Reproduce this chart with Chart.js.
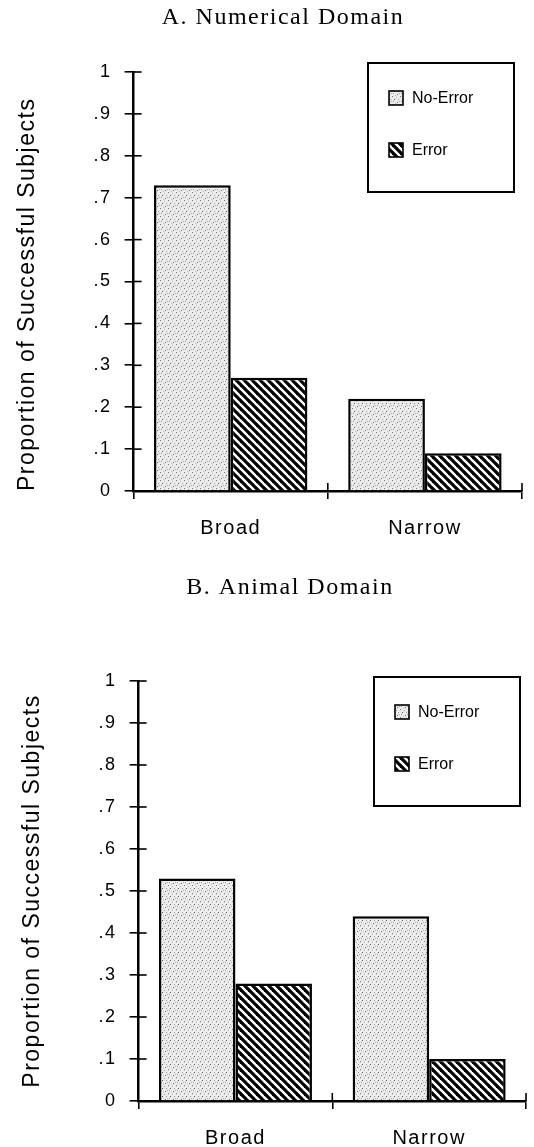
<!DOCTYPE html>
<html>
<head>
<meta charset="utf-8">
<script src="https://cdn.jsdelivr.net/npm/chart.js@4"></script>
<style>
html, body { margin: 0; padding: 0; background: #fff; overflow: hidden; }
.box { position: relative; width: 534px; }
#boxA { height: 573px; }
#boxB { height: 600px; }
</style>
</head>
<body>
<div class="box" id="boxA"><canvas id="chartA"></canvas></div>
<div class="box" id="boxB"><canvas id="chartB"></canvas></div>
<script>
// data
var categories = ['Broad', 'Narrow'];
var seriesNames = ['No-Error', 'Error'];
var numericalNoError = [0.73, 0.22];
var numericalError = [0.27, 0.09];
var animalNoError = [0.53, 0.44];
var animalError = [0.28, 0.10];
var yTickLabels = ['0', '.1', '.2', '.3', '.4', '.5', '.6', '.7', '.8', '.9', '1'];

// fill patterns: stipple for No-Error, diagonal hatch for Error
function stipplePattern() {
  var c = document.createElement('canvas');
  c.width = 8; c.height = 8;
  var g = c.getContext('2d');
  g.fillStyle = '#ececec';
  g.fillRect(0, 0, 8, 8);
  var dots = [[0,0,'#777'],[4,1,'#aaa'],[2,3,'#555'],[6,3,'#999'],[1,5,'#999'],[5,6,'#666'],[3,7,'#bbb'],[7,5,'#aaa']];
  dots.forEach(function (d) { g.fillStyle = d[2]; g.fillRect(d[0], d[1], 1, 1); });
  return g.createPattern(c, 'repeat');
}

function hatchPattern() {
  var s = 8;
  var c = document.createElement('canvas');
  c.width = s; c.height = s;
  var g = c.getContext('2d');
  g.fillStyle = '#fff';
  g.fillRect(0, 0, s, s);
  g.strokeStyle = '#000';
  g.lineWidth = 3.2;
  [-s, 0, s].forEach(function (o) {
    g.beginPath();
    g.moveTo(o - 1, -1);
    g.lineTo(o + s + 1, s + 1);
    g.stroke();
  });
  return g.createPattern(c, 'repeat');
}

var stipple = stipplePattern();
var hatch = hatchPattern();

// the scanned lettering is wide, so space it out a little
var wideText = {
  id: 'wideText',
  beforeLayout: function (chart) { chart.ctx.letterSpacing = '1.5px'; },
  beforeDraw: function (chart) { chart.ctx.letterSpacing = '1.5px'; }
};

// panel heading, sits a bit right of the canvas centre like the scan
var panelTitle = {
  id: 'panelTitle',
  afterDraw: function (chart, args, opts) {
    var ctx = chart.ctx;
    ctx.save();
    ctx.letterSpacing = '1.5px';
    ctx.font = '24px "Liberation Serif", "Times New Roman", serif';
    ctx.fillStyle = '#000';
    ctx.textAlign = 'center';
    ctx.textBaseline = 'middle';
    ctx.fillText(opts.text, opts.x, opts.y);
    ctx.restore();
  }
};

// short tick marks on the inner side of both axes
var innerTicks = {
  id: 'innerTicks',
  afterDraw: function (chart) {
    var ctx = chart.ctx, a = chart.chartArea;
    var y = chart.scales.y, x = chart.scales.x;
    ctx.save();
    ctx.strokeStyle = '#000';
    ctx.lineWidth = 1.6;
    y.ticks.forEach(function (t, i) {
      var py = y.getPixelForTick(i);
      ctx.beginPath(); ctx.moveTo(a.left, py); ctx.lineTo(a.left + 8, py); ctx.stroke();
    });
    var n = x.ticks.length;
    for (var i = 1; i <= n; i++) {
      var px = x.left + i * (x.width / n);
      ctx.beginPath(); ctx.moveTo(px, a.bottom); ctx.lineTo(px, a.bottom - 8); ctx.stroke();
    }
    ctx.restore();
  }
};

// boxed legend inside the plot, top right
var boxLegend = {
  id: 'boxLegend',
  afterDraw: function (chart, args, opts) {
    var ctx = chart.ctx, a = chart.chartArea;
    var w = 146, h = 129;
    var left = a.right - opts.right - w, top = a.top + opts.top;
    ctx.save();
    ctx.letterSpacing = '0px';
    ctx.lineWidth = 2;
    ctx.strokeStyle = '#000';
    ctx.fillStyle = '#fff';
    ctx.fillRect(left, top, w, h);
    ctx.strokeRect(left, top, w, h);
    ctx.font = '16px "Liberation Sans", Arial, sans-serif';
    ctx.textBaseline = 'middle';
    chart.data.datasets.forEach(function (ds, i) {
      var cy = top + 35 + i * 52;
      ctx.fillStyle = ds.backgroundColor;
      ctx.fillRect(left + 21, cy - 7, 14, 14);
      ctx.lineWidth = 1.6;
      ctx.strokeRect(left + 21, cy - 7, 14, 14);
      ctx.fillStyle = '#000';
      ctx.fillText(ds.label, left + 44, cy + 1);
    });
    ctx.restore();
  }
};

function makeChart(id, title, noErr, err, pad, titlePos, yTitleAlign, legendPos) {
  titlePos.text = title;
  return new Chart(document.getElementById(id), {
    type: 'bar',
    data: {
      labels: categories,
      datasets: [
        { label: seriesNames[0], data: noErr, backgroundColor: stipple, borderColor: '#000', borderWidth: 2.5 },
        { label: seriesNames[1], data: err, backgroundColor: hatch, borderColor: '#000', borderWidth: 2.5 }
      ]
    },
    options: {
      responsive: true,
      maintainAspectRatio: false,
      animation: false,
      layout: { padding: pad },
      datasets: { bar: { categoryPercentage: 0.79, barPercentage: 1.0 } },
      plugins: {
        legend: { display: false },
        tooltip: { enabled: false },
        title: { display: false },
        panelTitle: titlePos,
        boxLegend: legendPos
      },
      scales: {
        x: {
          border: { color: '#000', width: 2.5 },
          grid: { display: true, drawOnChartArea: false, drawTicks: true, tickLength: 8, color: '#000', lineWidth: 1.6 },
          ticks: { color: '#000', padding: 17, font: { family: '"Liberation Sans", Arial, sans-serif', size: 20 } }
        },
        y: {
          min: 0,
          max: 1,
          border: { color: '#000', width: 2.5 },
          grid: { display: true, drawOnChartArea: false, drawTicks: true, tickLength: 9, color: '#000', lineWidth: 1.6 },
          ticks: {
            stepSize: 0.1,
            color: '#000',
            padding: 13,
            font: { family: '"Liberation Sans", Arial, sans-serif', size: 18 },
            callback: function (v) { return yTickLabels[Math.round(v * 10)]; }
          },
          title: {
            display: true,
            text: 'Proportion of Successful Subjects',
            color: '#000',
            align: yTitleAlign,
            padding: { top: 2, bottom: 39 },
            font: { family: '"Liberation Sans", Arial, sans-serif', size: 23 }
          }
        }
      }
    },
    plugins: [wideText, panelTitle, innerTicks, boxLegend]
  });
}

makeChart('chartA', 'A. Numerical Domain', numericalNoError, numericalError,
  { left: 12, right: 12, top: 72, bottom: 16 }, { x: 283, y: 18 }, 'start', { right: 8, top: -9 });
makeChart('chartB', 'B. Animal Domain', animalNoError, animalError,
  { left: 17, right: 8, top: 108, bottom: 6 }, { x: 290, y: 15 }, 'center', { right: 6, top: -4 });
</script>
</body>
</html>
